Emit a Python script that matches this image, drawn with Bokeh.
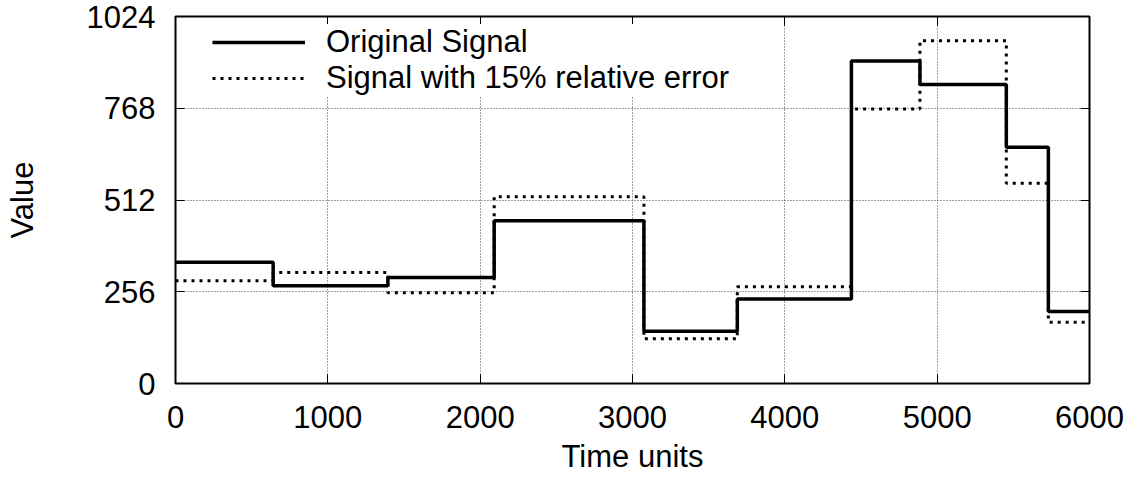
from bokeh.plotting import figure
from bokeh.models import Legend, LegendItem, LinearAxis, FixedTicker, Range1d
from bokeh.embed import file_html
from bokeh.resources import INLINE

# ---- data ----
breaks = [0, 641, 1394, 2092, 3075, 3688, 4437, 4887, 5454, 5730, 6000]
original = [338, 273, 296, 454, 146, 236, 900, 834, 659, 201]
with_error = [287, 310, 253, 521, 125, 270, 766, 956, 559, 171]
x_ticks = [0, 1000, 2000, 3000, 4000, 5000, 6000]
y_ticks = [0, 256, 512, 768, 1024]

FONT = "Liberation Sans"
FS = "31px"

p = figure(width=1139, height=478, output_backend="svg", toolbar_location=None,
           x_range=Range1d(0, 6000), y_range=Range1d(0, 1024),
           min_border_left=175, min_border_right=50, min_border_top=16, min_border_bottom=95)
p.outline_line_color = "black"
p.outline_line_width = 2
p.background_fill_color = "white"
p.border_fill_color = "white"

for ax in (p.xaxis[0], p.yaxis[0]):
    ax.axis_line_color = None
    ax.major_tick_in = 9
    ax.major_tick_out = 0
    ax.minor_tick_line_color = None
    ax.major_tick_line_color = "black"
    ax.major_tick_line_width = 1
    ax.major_label_text_font = FONT
    ax.major_label_text_font_size = FS
    ax.major_label_text_color = "black"
    ax.axis_label_text_font = FONT
    ax.axis_label_text_font_size = FS
    ax.axis_label_text_font_style = "normal"
    ax.axis_label_text_color = "black"

p.xaxis[0].ticker = FixedTicker(ticks=x_ticks)
p.yaxis[0].ticker = FixedTicker(ticks=y_ticks)
p.xaxis[0].axis_label = "Time units"
p.yaxis[0].axis_label = "Value"
p.xaxis[0].major_label_standoff = 22
p.xaxis[0].axis_label_standoff = 8
p.yaxis[0].major_label_standoff = 20
p.yaxis[0].axis_label_standoff = 44

# mirrored inward ticks on top and right (no labels)
for loc, ticks in (("above", x_ticks), ("right", y_ticks)):
    ax = LinearAxis(ticker=FixedTicker(ticks=ticks),
                    major_label_overrides={t: "" for t in ticks})
    ax.axis_line_color = None
    ax.major_tick_in = 9
    ax.major_tick_out = 0
    ax.minor_tick_line_color = None
    ax.major_tick_line_color = "black"
    ax.major_label_standoff = 0
    p.add_layout(ax, loc)

for g in (p.xgrid[0], p.ygrid[0]):
    g.grid_line_color = "black"
    g.grid_line_alpha = 0.75
    g.grid_line_dash = "1 2"
    g.grid_line_width = 1
p.xgrid[0].ticker = FixedTicker(ticks=x_ticks)
p.ygrid[0].ticker = FixedTicker(ticks=y_ticks)

r_err = p.step(x=breaks, y=with_error + [with_error[-1]], mode="after",
               line_color="black", line_width=3, line_dash="3 5")
r_orig = p.step(x=breaks, y=original + [original[-1]], mode="after",
                line_color="black", line_width=3.5)

legend = Legend(items=[LegendItem(label="Original Signal", renderers=[r_orig]),
                       LegendItem(label="Signal with 15% relative error", renderers=[r_err])],
                location=(37, 287))
legend.border_line_color = None
legend.background_fill_color = "white"
legend.background_fill_alpha = 1
legend.label_text_font = FONT
legend.label_text_font_size = FS
legend.label_text_color = "black"
legend.glyph_width = 93
legend.glyph_height = 32
legend.label_height = 32
legend.label_standoff = 21
legend.spacing = -3
legend.padding = 6
legend.margin = 0
p.add_layout(legend, "center")

open("out.html", "w").write(file_html(p, INLINE))
